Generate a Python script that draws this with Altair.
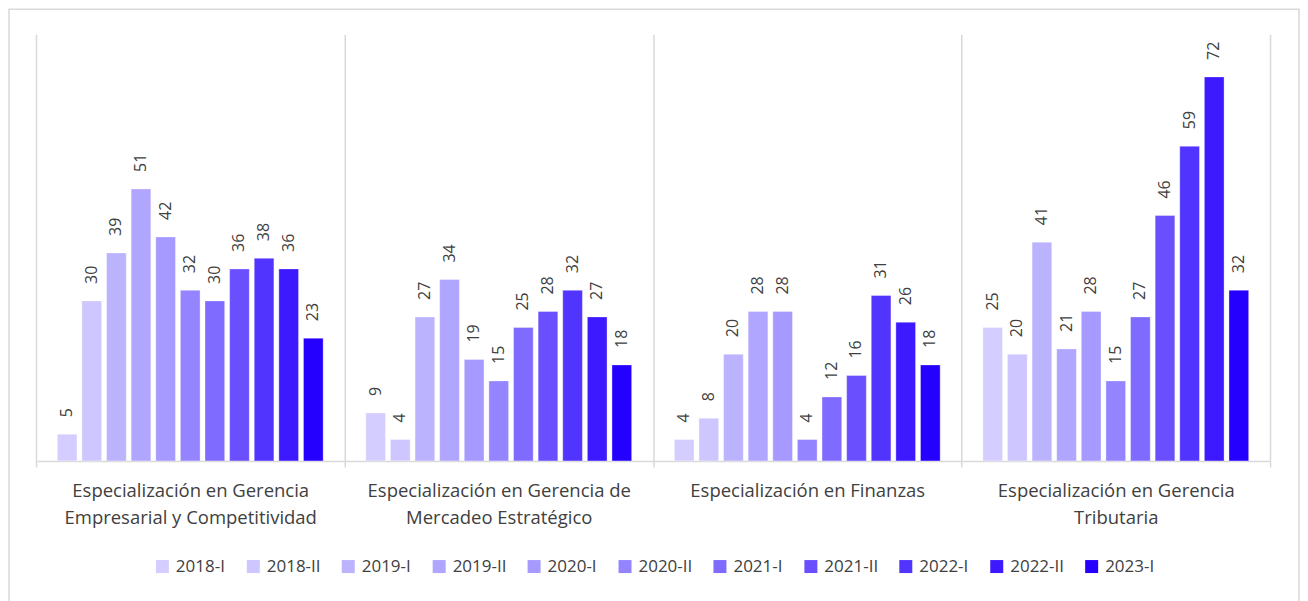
import altair as alt
import pandas as pd

programs = [
    "Especialización en Gerencia\nEmpresarial y Competitividad",
    "Especialización en Gerencia de\nMercadeo Estratégico",
    "Especialización en Finanzas",
    "Especialización en Gerencia\nTributaria",
]
periods = ["2018-I", "2018-II", "2019-I", "2019-II", "2020-I", "2020-II",
           "2021-I", "2021-II", "2022-I", "2022-II", "2023-I"]
values_g1 = [5, 30, 39, 51, 42, 32, 30, 36, 38, 36, 23]
values_g2 = [9, 4, 27, 34, 19, 15, 25, 28, 32, 27, 18]
values_g3 = [4, 8, 20, 28, 28, 4, 12, 16, 31, 26, 18]
values_g4 = [25, 20, 41, 21, 28, 15, 27, 46, 59, 72, 32]
colors = ["#d4cdff", "#cdc6ff", "#bcb3ff", "#b0a5ff", "#a699ff", "#9584ff",
          "#7f6bff", "#6a4fff", "#5234ff", "#3c19ff", "#2600ff"]

rows = []
for prog, vals in zip(programs, [values_g1, values_g2, values_g3, values_g4]):
    for per, v in zip(periods, vals):
        rows.append({"program": prog, "period": per, "value": v})
df = pd.DataFrame(rows)

FONT = "Open Sans"
TXT = "#404040"
GRID = "#d9d9d9"

x_enc = alt.X(
    "program:N", sort=programs, title=None,
    scale=alt.Scale(paddingInner=0, paddingOuter=0),
    axis=alt.Axis(
        labelAngle=0, labelExpr="split(datum.label, '\\n')",
        labelFont=FONT, labelFontSize=18.5, labelColor=TXT, labelLineHeight=27,
        labelPadding=15, tickBand="extent", grid=True, gridColor=GRID,
        gridWidth=1.5, tickColor=GRID, tickWidth=1.5, tickSize=6,
        domainColor=GRID, domainWidth=1.5, labelLimit=400,
    ),
)
xo_enc = alt.XOffset("period:N", sort=periods,
                     scale=alt.Scale(paddingInner=0.2, paddingOuter=0.867))
y_enc = alt.Y("value:Q", axis=None, scale=alt.Scale(domain=[0, 80], nice=False))

base = alt.Chart(df).encode(x=x_enc, xOffset=xo_enc, y=y_enc)

bars = base.mark_bar(stroke="#ffffff", strokeOpacity=0.35, strokeWidth=1).encode(
    color=alt.Color(
        "period:N", sort=periods, scale=alt.Scale(domain=periods, range=colors),
        legend=alt.Legend(
            title=None, orient="none", direction="horizontal", columns=11,
            legendX=118, legendY=524, symbolType="square", symbolSize=169,
            symbolStrokeWidth=0, labelFont=FONT, labelFontSize=17,
            labelColor=TXT, labelOffset=5, columnPadding=19,
        ),
    )
)

labels = base.mark_text(
    angle=270, align="left", baseline="middle", dx=17,
    font=FONT, fontSize=16, color=TXT,
).encode(text="value:Q")

frame = alt.Chart(alt.Data(values=[{}])).mark_rect(
    fill=None, stroke=GRID, strokeWidth=1.5
).encode(
    x=alt.value(-27), x2=alt.value(1264), y=alt.value(-25), y2=alt.value(580)
)

chart = alt.layer(frame, bars, labels).properties(
    width=1235, height=427,
    padding={"left": 0, "top": 0, "right": 0, "bottom": 0},
).configure(background="#ffffff").configure_view(stroke=None)

chart.save("out.html", embed_options={"renderer": "svg", "actions": False})
